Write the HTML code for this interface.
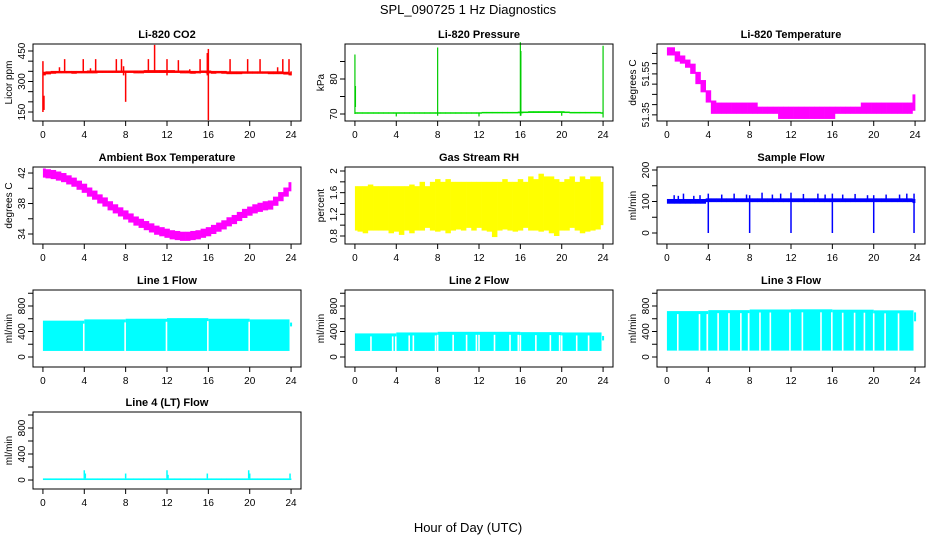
<!DOCTYPE html>
<html><head><meta charset="utf-8"><style>
html,body{margin:0;padding:0;background:#fff;}
svg{display:block;font-family:"Liberation Sans",Arial,sans-serif;}
</style></head><body>
<svg id="c" width="936" height="540" viewBox="0 0 936 540" xmlns="http://www.w3.org/2000/svg">
<text x="468" y="14" text-anchor="middle" font-size="13">SPL_090725  1 Hz Diagnostics</text>
<text x="468" y="532" text-anchor="middle" font-size="13">Hour of Day (UTC)</text>
</svg>
<script>
const T=[0,0.5,1,1.5,2,2.5,3,3.5,4,4.5,5,5.5,6,6.5,7,7.5,8,8.5,9,9.5,10,10.5,11,11.5,12,12.5,13,13.5,14,14.5,15,15.5,16,16.5,17,17.5,18,18.5,19,19.5,20,20.5,21,21.5,22,22.5,23,23.5,24];
const xTicks=[0,4,8,12,16,20,24];
// CO2
const co2Lo=[330,335,338,340,340,340,338,340,340,340,340,342,342,342,342,342,342,342,340,340,342,342,342,342,342,342,342,340,340,338,340,342,340,338,340,338,336,336,336,338,338,338,338,338,336,336,336,334,330];
const co2Hi=[348,350,352,352,352,352,352,352,352,354,354,354,354,354,354,354,354,354,354,354,356,356,356,356,356,356,354,354,354,352,352,354,354,352,352,352,350,350,350,350,350,350,350,350,350,350,350,348,345];
const co2SpT=[0,0.1,1.6,2.1,3.9,4.6,5.1,7.1,7.6,7.8,8.0,10.2,10.8,12.0,13.1,14.2,15.2,15.9,16.0,18.1,19.8,21.0,22.7,23.2,23.8,24.0];
const co2SpLo=[150,160,345,345,345,345,345,345,345,330,200,345,345,330,345,340,340,330,110,345,345,345,345,345,345,330];
const co2SpHi=[400,230,370,410,410,365,410,410,410,375,350,410,480,410,405,360,410,440,460,410,410,410,370,410,410,350];
// Pressure
const presLo=[70.1,70.1,70.1,70.1,70.1,70.1,70.1,70.1,70.1,70.1,70.1,70.1,70.1,70.1,70.1,70.1,70.1,70.1,70.1,70.1,70.1,70.1,70.1,70.1,70.1,70.2,70.2,70.2,70.2,70.2,70.2,70.2,70.2,70.3,70.3,70.3,70.3,70.3,70.3,70.3,70.3,70.3,70.2,70.2,70.2,70.2,70.2,70.2,70.1];
const presHi=[70.5,70.5,70.5,70.5,70.5,70.5,70.5,70.5,70.5,70.5,70.5,70.5,70.5,70.5,70.5,70.5,70.5,70.5,70.5,70.5,70.5,70.5,70.5,70.5,70.5,70.6,70.6,70.6,70.6,70.6,70.6,70.6,70.7,70.7,70.8,70.8,70.8,70.8,70.8,70.8,70.8,70.7,70.6,70.6,70.6,70.6,70.6,70.6,70.5];
const presSpT=[0,0.05,4,8,12,16,16.05,20,24];
const presSpLo=[70,72,69.3,69.5,69.3,69.5,69.5,69.5,69];
const presSpHi=[87,78,70.3,89,70.3,90.5,88,70.3,89.5];
// Li-820 temperature
const ltLo=[51.64,51.64,51.61,51.60,51.58,51.55,51.50,51.46,51.41,51.355,51.355,51.355,51.355,51.355,51.355,51.355,51.355,51.355,51.355,51.355,51.355,51.355,51.33,51.33,51.33,51.33,51.33,51.33,51.33,51.33,51.33,51.33,51.33,51.355,51.355,51.355,51.355,51.355,51.355,51.355,51.355,51.355,51.355,51.355,51.355,51.355,51.355,51.355,51.37];
const ltHi=[51.68,51.68,51.66,51.64,51.62,51.60,51.56,51.52,51.47,51.42,51.41,51.41,51.41,51.41,51.41,51.41,51.41,51.41,51.39,51.39,51.39,51.39,51.39,51.39,51.39,51.39,51.39,51.39,51.39,51.39,51.39,51.39,51.39,51.39,51.39,51.39,51.39,51.39,51.41,51.41,51.41,51.41,51.41,51.41,51.41,51.41,51.41,51.41,51.45];
// Ambient box temperature
const ambMid=[42.0,41.9,41.8,41.6,41.4,41.1,40.8,40.4,40.0,39.5,39.1,38.6,38.2,37.7,37.3,36.9,36.5,36.1,35.7,35.4,35.1,34.8,34.5,34.3,34.1,33.9,33.8,33.7,33.7,33.8,33.9,34.1,34.3,34.6,34.9,35.2,35.6,35.9,36.3,36.7,37.0,37.3,37.5,37.7,37.8,38.3,38.9,39.5,40.2];
const ambSpread=0.6;
// Gas stream RH
const rhHi=[1.72,1.72,1.72,1.75,1.72,1.72,1.72,1.72,1.72,1.72,1.72,1.75,1.72,1.8,1.72,1.8,1.85,1.8,1.85,1.8,1.8,1.8,1.8,1.8,1.8,1.8,1.8,1.8,1.8,1.85,1.8,1.8,1.85,1.8,1.9,1.85,1.95,1.9,1.9,1.85,1.8,1.85,1.9,1.8,1.9,1.85,1.9,1.9,1.8];
const rhLo=[0.9,0.88,0.85,0.9,0.9,0.9,0.9,0.85,0.88,0.82,0.9,0.85,0.9,0.9,0.95,0.9,0.88,0.9,0.85,0.9,0.92,0.9,0.95,0.9,0.95,0.9,0.88,0.78,0.9,0.92,0.9,0.88,0.9,0.95,0.9,0.9,0.88,0.9,0.85,0.8,0.9,0.9,0.95,0.9,0.85,0.88,0.9,0.92,1.0];
// Sample flow
const sfLo=[93,93,93,93,93,93,93,93,98,98,98,98,98,98,98,98,98,98,98,98,98,98,98,98,98,98,98,98,98,98,98,98,98,98,98,98,98,98,98,98,98,98,98,98,98,98,98,98,95];
const sfHi=[108,108,108,108,108,108,108,108,110,110,110,110,110,110,110,110,110,110,110,110,110,110,110,110,110,110,110,110,110,110,110,110,110,110,110,110,110,110,110,110,110,110,110,110,110,110,110,110,108];
const sfSpT=[0.7,1.1,1.6,2.6,3.2,4.0,5.3,6.5,7.7,8.0,9.2,10.2,11.0,12.0,13.2,14.6,15.3,16.0,17.0,18.2,19.4,20.0,21.2,22.5,23.2,23.9];
const sfSpLo=[100,100,100,100,100,0,100,100,100,0,100,100,100,0,100,100,100,0,100,100,100,0,100,100,100,0];
const sfSpHi=[120,118,125,118,120,125,122,125,122,120,128,122,125,128,124,125,122,125,122,124,120,120,122,122,125,125];
// Line flows (4-hour segment tops)
const segT=[0,4,8,12,16,20];
const l1Hi=[570,590,600,610,600,590];
const l1Lo=95;
const l1Gaps=[3.95,7.95,11.95,15.95,19.95];
const l2Hi=[370,385,395,395,390,385];
const l2Lo=95;
const l2Gaps=[1.55,3.65,3.95,5.25,5.65,7.8,8.0,9.5,10.8,11.75,12.0,13.5,15.0,15.8,16.0,17.5,18.9,19.8,20.0,21.45,22.6];
const l3Hi=[720,735,745,748,742,732];
const l3Lo=100;
const l3Gaps=[1.05,3.15,3.9,4.95,6.0,7.15,7.9,9.0,10.0,11.9,13.1,14.9,15.95,17.0,18.15,19.1,20.0,21.1,22.4];
// Line 4
const l4Lo=0;
const l4Hi=25;
const l4SpT=[4.0,4.1,8.0,12.0,12.1,15.9,19.9,20.0,23.9];
const l4SpHi=[150,100,100,150,80,100,150,100,100];

const svg=document.getElementById('c');
const NS='http://www.w3.org/2000/svg';
function mk(tag,attrs,parent){const e=document.createElementNS(NS,tag);for(const k in attrs)e.setAttribute(k,attrs[k]);(parent||svg).appendChild(e);return e;}

function makePanel(col,row,title,ylab,yBot,yTop,yTicks,yLabels,key){
  const L=[33,345,657][col],Tp=[44,167,290,412][row],W=268,H=77;
  const g=mk('g',{});
  
  
  const xs=t=>L+W*(0.04/1.08)+t*(W/1.08)/24;
  const ys=v=>Tp+H-(v-yBot)/(yTop-yBot)*H;
  const plot=mk('g',{},g);
  
  
  const box=mk('rect',{x:L,y:Tp,width:W,height:H,fill:'none',stroke:'#000','stroke-width':1},g);
  
  
  const tt=mk('text',{x:L+W/2,y:Tp-6,'text-anchor':'middle','font-size':11,'font-weight':'bold'},g);
  tt.textContent=title;
  
  
  xTicks.forEach(v=>{
    const x=xs(v);
    const tk=mk('line',{x1:x,x2:x,y1:Tp+H,y2:Tp+H+5,stroke:'#000'},g);
    
    
    const tl=mk('text',{x:x,y:Tp+H+17,'text-anchor':'middle','font-size':10},g);
    tl.textContent=String(v);
    
    
  });
  yTicks.forEach(v=>{
    const y=ys(v);
    const tk=mk('line',{x1:L-5,x2:L,y1:y,y2:y,stroke:'#000'},g);
    
    
  });
  yLabels.forEach(v=>{
    const y=ys(v);
    const tl=mk('text',{x:L-8,y:y,'text-anchor':'middle','font-size':10,transform:'rotate(-90 '+(L-8)+' '+y+')'},g);
    tl.textContent=String(v);
    
    
  });
  const yt=mk('text',{x:L-21,y:Tp+H/2,'text-anchor':'middle','font-size':10,transform:'rotate(-90 '+(L-21)+' '+(Tp+H/2)+')'},g);
  yt.textContent=ylab;
  
  
  return {xs,ys,plot};
}
function band(p,lo,hi,color,key){
  for(let i=0;i<T.length;i++){
    const t0=Math.max(0,T[i]-0.25),t1=Math.min(24,T[i]+0.25);
    const a=p.ys(hi[i]),b=p.ys(lo[i]);
    const r=mk('rect',{x:p.xs(t0),y:Math.min(a,b),width:p.xs(t1)-p.xs(t0)+0.3,height:Math.max(1.5,Math.abs(b-a)),fill:color},p.plot);
    
    
  }
}
function spikes(p,ts,lo,hi,color,key,w){
  for(let i=0;i<ts.length;i++){
    const x=p.xs(ts[i]);
    const l=mk('line',{x1:x,x2:x,y1:p.ys(lo[i]),y2:p.ys(hi[i]),stroke:color,'stroke-width':w||1.5},p.plot);
    
    
  }
}
function flow(p,hi,lo,gaps,key,endLo,endHi){
  for(let i=0;i<segT.length;i++){
    const t0=segT[i],t1=Math.min(23.85,segT[i]+4);
    const r=mk('rect',{x:p.xs(t0),y:p.ys(hi[i]),width:p.xs(t1)-p.xs(t0),height:p.ys(lo)-p.ys(hi[i]),fill:'#00ffff'},p.plot);
    
    
  }
  const e=mk('line',{x1:p.xs(24),x2:p.xs(24),y1:p.ys(endLo),y2:p.ys(endHi),stroke:'#00ffff','stroke-width':2},p.plot);
  
  
  gaps.forEach(t=>{
    const si=Math.min(5,Math.floor(t/4));
    const x=p.xs(t);
    const l=mk('line',{x1:x,x2:x,y1:p.ys(hi[si])+3,y2:p.ys(lo),stroke:'#fff','stroke-width':1.6},p.plot);
    
    
  });
}

let p;
p=makePanel(0,0,'Li-820 CO2','Licor ppm',105.7,484.4,[150,200,250,300,350,400,450],[150,300,450],'co2');
band(p,co2Lo,co2Hi,'#ff0000','co2');spikes(p,co2SpT,co2SpLo,co2SpHi,'#ff0000','co2');
p=makePanel(1,0,'Li-820 Pressure','kPa',68,90,[70,75,80,85],[70,80],'pressure');
band(p,presLo,presHi,'#00dd00','pressure');spikes(p,presSpT,presSpLo,presSpHi,'#00cc00','pressure',1.2);
p=makePanel(2,0,'Li-820 Temperature','degrees C',51.32,51.696,[51.35,51.4,51.45,51.5,51.55,51.6,51.65],[51.35,51.55],'li820-temp');
band(p,ltLo,ltHi,'#ff00ff','li820-temp');
p=makePanel(0,1,'Ambient Box Temperature','degrees C',32.69,42.79,[34,36,38,40,42],[34,38,42],'ambient-temp');
band(p,ambMid.map(v=>v-ambSpread),ambMid.map(v=>v+ambSpread),'#ff00ff','ambient-temp');
p=makePanel(1,1,'Gas Stream RH','percent',0.652,2.074,[0.8,1.0,1.2,1.4,1.6,1.8,2.0],[0.8,1.2,1.6,2.0],'rh');
band(p,rhLo,rhHi,'#ffff00','rh');
p=makePanel(2,1,'Sample Flow','ml/min',-34.9,209.5,[0,50,100,150,200],[0,100,200],'sample-flow');
band(p,sfLo,sfHi,'#0000ff','sample-flow');spikes(p,sfSpT,sfSpLo,sfSpHi,'#0000ff','sample-flow');
p=makePanel(0,2,'Line 1 Flow','ml/min',-157,1051,[0,200,400,600,800,1000],[0,400,800],'line1');
flow(p,l1Hi,l1Lo,l1Gaps,'line1',480,540);
p=makePanel(1,2,'Line 2 Flow','ml/min',-157,1051,[0,200,400,600,800,1000],[0,400,800],'line2');
flow(p,l2Hi,l2Lo,l2Gaps,'line2',260,330);
p=makePanel(2,2,'Line 3 Flow','ml/min',-157,1051,[0,200,400,600,800,1000],[0,400,800],'line3');
flow(p,l3Hi,l3Lo,l3Gaps,'line3',560,700);
p=makePanel(0,3,'Line 4 (LT) Flow','ml/min',-138,1046,[0,200,400,600,800,1000],[0,400,800],'line4');
band(p,T.map(()=>l4Lo),T.map(()=>l4Hi),'#00ffff','line4');
spikes(p,l4SpT,l4SpT.map(()=>l4Hi),l4SpHi,'#00ffff','line4');
</script>
</body></html>
